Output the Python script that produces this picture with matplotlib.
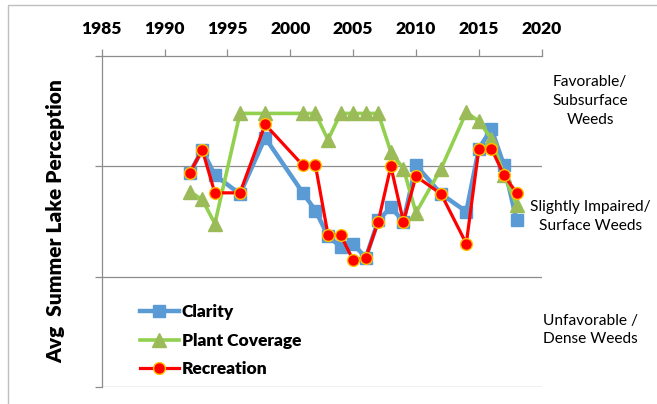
import numpy as np
import matplotlib
matplotlib.use("Agg")
from matplotlib import pyplot as plt
from matplotlib.patches import Rectangle

plt.rcParams['font.family'] = ['Lato', 'DejaVu Sans']

# years and perception scores (0 = bottom of plot, 3 = top)
clarity_years = [1992, 1993, 1994, 1996, 1998, 2001, 2002, 2003, 2004, 2005, 2006,
                 2007, 2008, 2009, 2010, 2012, 2014, 2015, 2016, 2017, 2018]
clarity = [1.94, 2.15, 1.92, 1.75, 2.26, 1.76, 1.60, 1.37, 1.27, 1.30, 1.17,
           1.51, 1.63, 1.50, 2.01, 1.75, 1.59, 2.16, 2.34, 2.01, 1.51]

plant_years = [1992, 1993, 1994, 1996, 1998, 2001, 2002, 2003, 2004, 2005, 2006,
               2007, 2008, 2009, 2010, 2012, 2014, 2015, 2016, 2017, 2018]
plant = [1.77, 1.70, 1.48, 2.48, 2.48, 2.48, 2.48, 2.24, 2.48, 2.48, 2.48,
         2.48, 2.13, 1.98, 1.58, 1.98, 2.49, 2.41, 2.25, 1.92, 1.65]

rec_years = [1992, 1993, 1994, 1996, 1998, 2001, 2002, 2003, 2004, 2005, 2006,
             2007, 2008, 2009, 2010, 2012, 2014, 2015, 2016, 2017, 2018]
recreation = [1.94, 2.15, 1.76, 1.76, 2.38, 2.01, 2.01, 1.38, 1.38, 1.15, 1.17,
              1.50, 2.00, 1.50, 1.91, 1.75, 1.30, 2.16, 2.16, 1.92, 1.76]

band_labels = ["Favorable/\nSubsurface\nWeeds",
               "Slightly Impaired/\nSurface Weeds",
               "Unfavorable /\nDense Weeds"]
band_centers = [2.595, 1.544, 0.517]

fig = plt.figure(figsize=(6.57, 4.04), dpi=100)
fig.patches.append(Rectangle((8 / 657, -0.1), 1.2, 1 - 5 / 404 + 0.1,
                             transform=fig.transFigure, fill=False,
                             edgecolor='#bfbfbf', linewidth=1))
ax = fig.add_axes([0.1548, 0.042, 0.6697, 0.8193])

grid_c = '#8c8c8c'
for v in [0, 1, 2]:
    ax.axhline(v, color=grid_c, linewidth=0.9, zorder=0)

ax.plot(clarity_years, clarity, color='#5B9BD5', linewidth=3.2, marker='s',
        markersize=8.5, markerfacecolor='#5B9BD5', markeredgecolor='#5B9BD5',
        label='Clarity', zorder=2)
ax.plot(plant_years, plant, color='#92D050', linewidth=2.6, marker='^',
        markersize=10.5, markerfacecolor='#9BBB59', markeredgecolor='#9BBB59',
        label='Plant Coverage', zorder=3)
ax.plot(rec_years, recreation, color='#FF0000', linewidth=2.3, marker='o',
        markersize=8.5, markerfacecolor='#FF0000', markeredgecolor='#FFC000',
        markeredgewidth=1.0, label='Recreation', zorder=4)

ax.set_xlim(1985, 2020)
ax.set_ylim(0, 3)
ax.set_xticks(np.arange(1985, 2021, 5))
ax.set_yticks([0, 1, 2, 3])
ax.set_yticklabels([])
ax.xaxis.tick_top()
ax.tick_params(axis='x', direction='out', length=5, color=grid_c, width=0.9,
               labelsize=12.5, pad=9)
ax.tick_params(axis='y', direction='out', length=5, color=grid_c, width=0.9)
for lab in ax.get_xticklabels():
    lab.set_fontweight('heavy')

for s in ['right', 'bottom']:
    ax.spines[s].set_visible(False)
for s in ['top', 'left']:
    ax.spines[s].set_color(grid_c)
    ax.spines[s].set_linewidth(0.9)

ax.set_ylabel("Avg  Summer Lake Perception", fontsize=15, fontweight='heavy',
              labelpad=18)

for txt, c in zip(band_labels, band_centers):
    ax.text(1.11, c / 3, txt, transform=ax.transAxes, ha='center', va='center',
            fontsize=11.2, linespacing=1.45, clip_on=False)

leg = ax.legend(loc='lower left', bbox_to_anchor=(0.072, 0.008), frameon=False,
                prop={'weight': 'heavy', 'size': 12.5}, handlelength=2.2,
                handletextpad=0.2, labelspacing=0.72, borderaxespad=0)

fig.savefig("out.png", dpi=100)
